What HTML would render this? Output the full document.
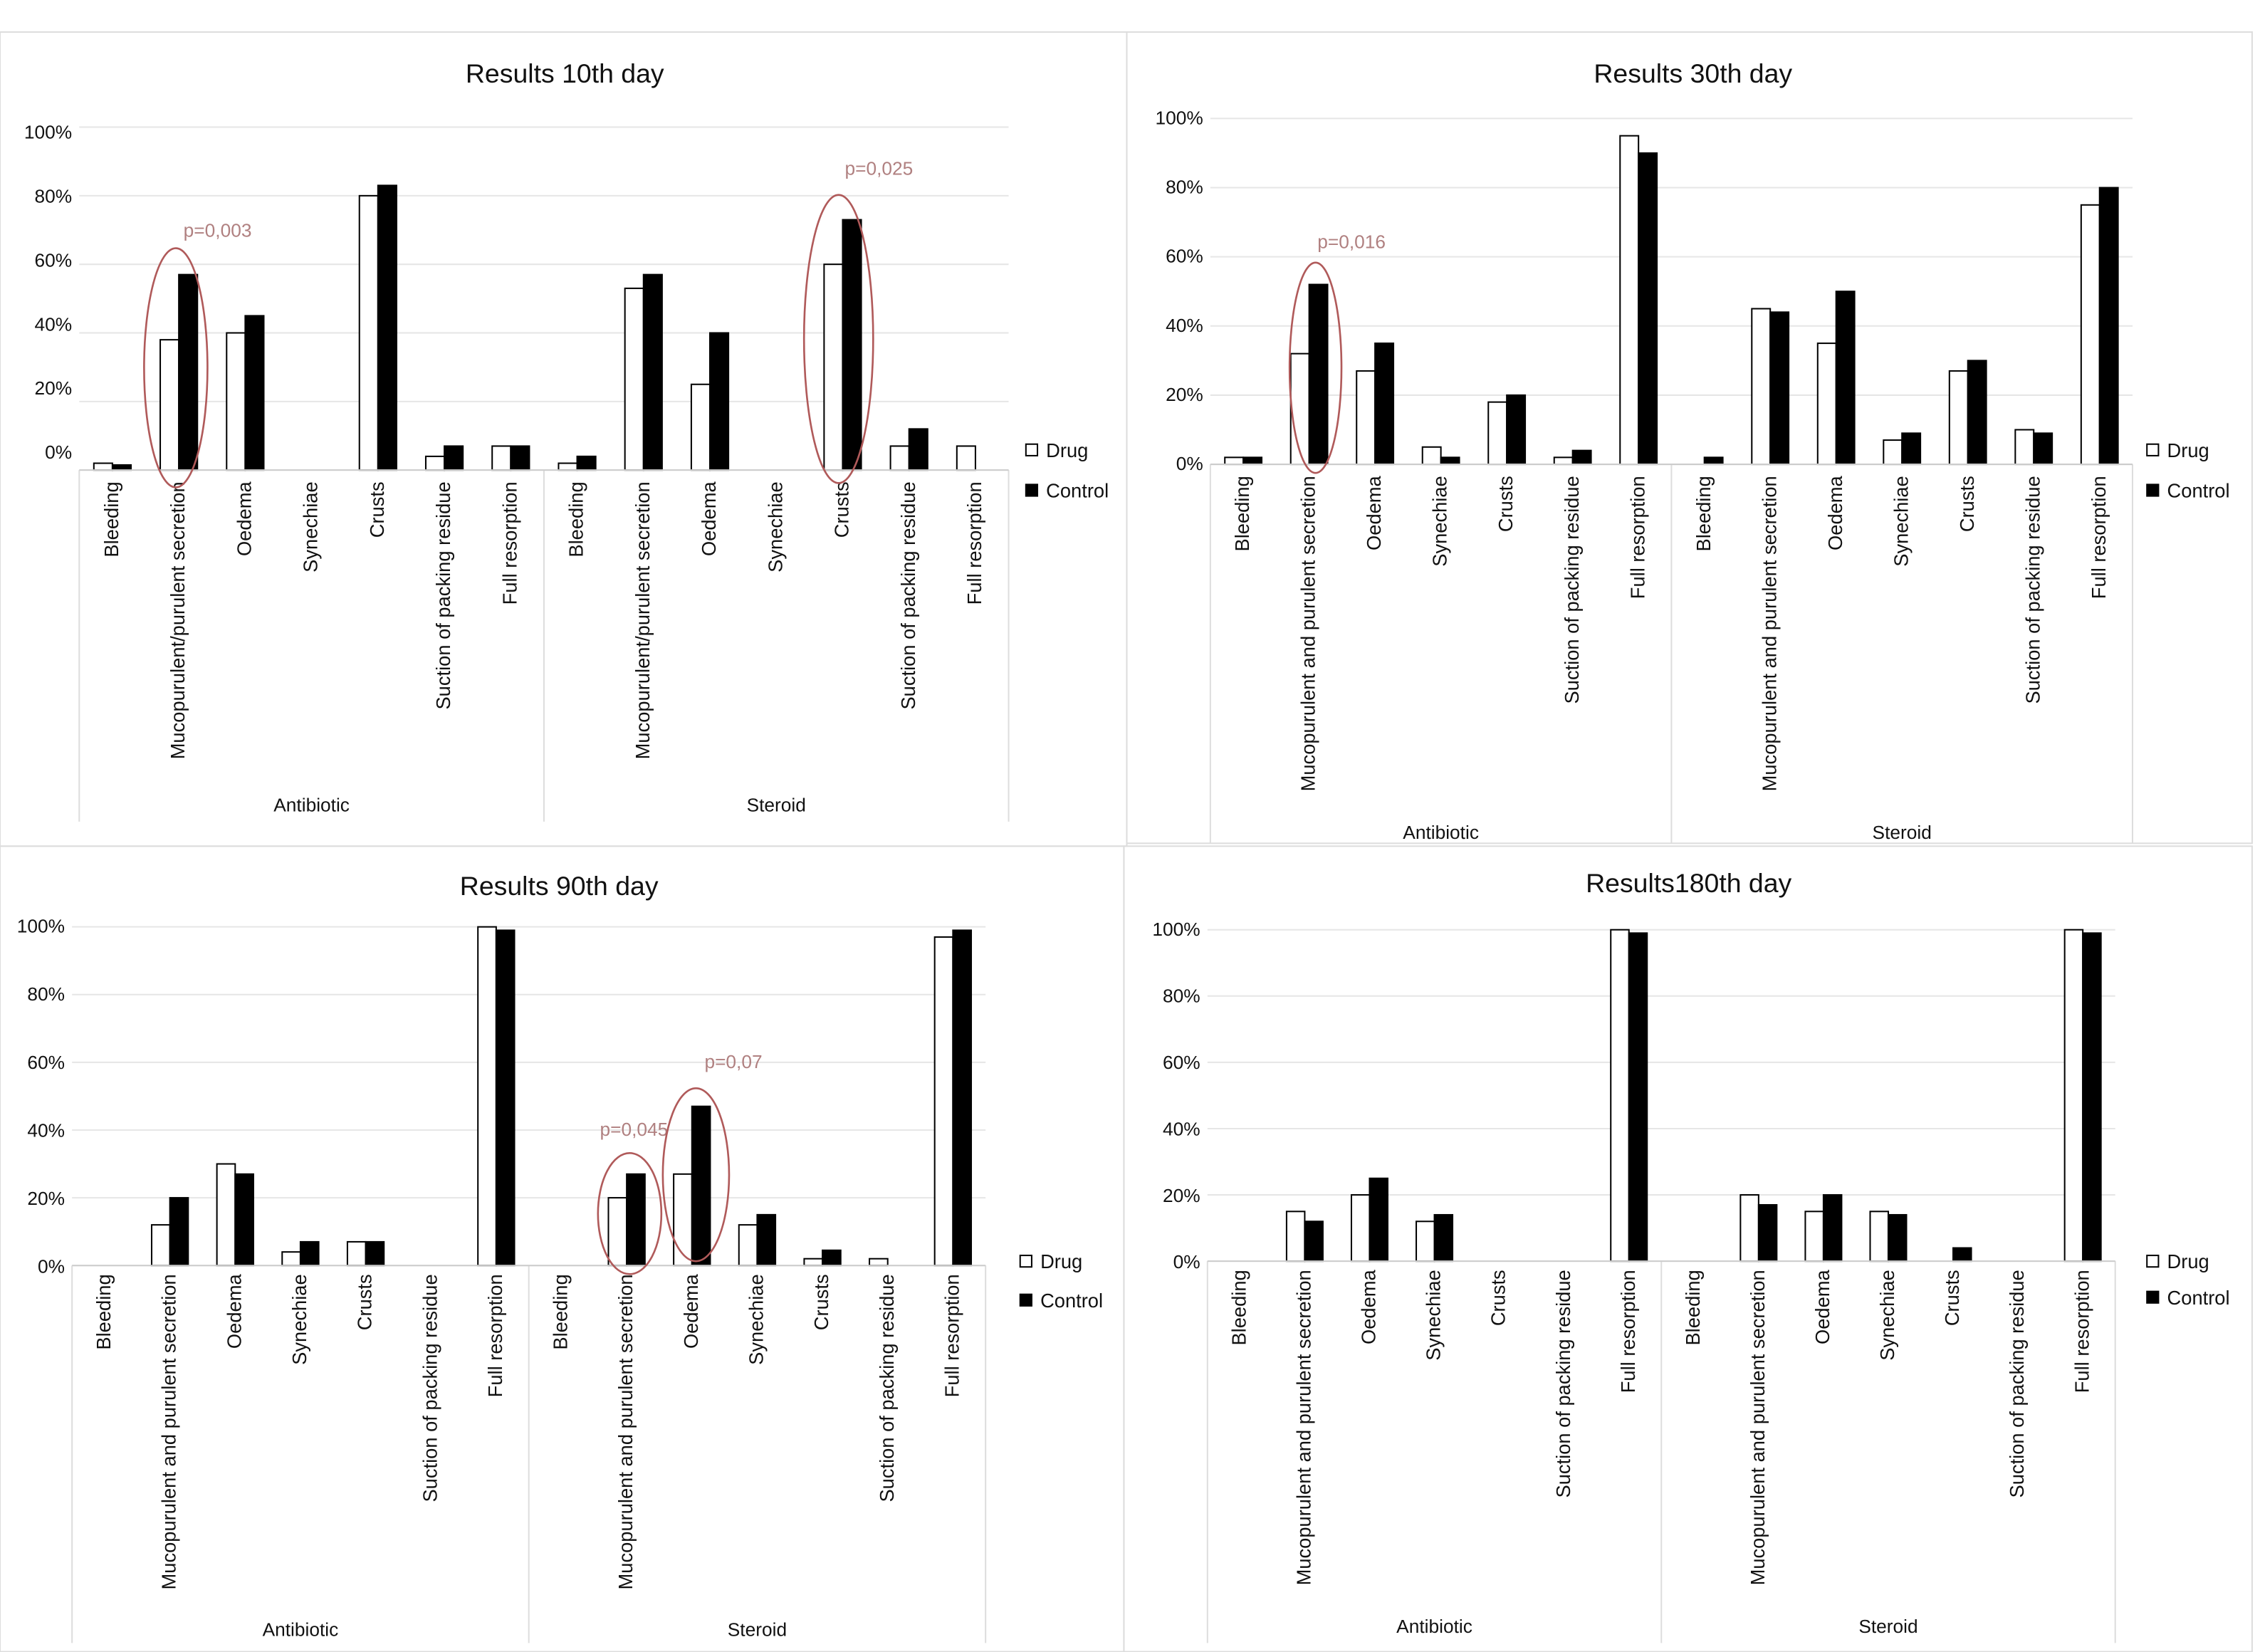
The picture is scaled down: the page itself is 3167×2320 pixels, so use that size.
<!DOCTYPE html>
<html><head><meta charset="utf-8"><style>
html,body{margin:0;padding:0;background:#fff}
svg{display:block}
text{font-family:"Liberation Sans",Arial,sans-serif;fill:#111}
</style></head><body>
<svg id="chart" width="3167" height="2320" viewBox="0 0 1565 1146" xmlns="http://www.w3.org/2000/svg"></svg>
<script>
const categories=["Bleeding","Mucopurulent/purulent secretion","Oedema","Synechiae","Crusts","Suction of packing residue","Full resorption"];
const categoriesAlt=["Bleeding","Mucopurulent and purulent secretion","Oedema","Synechiae","Crusts","Suction of packing residue","Full resorption"];
const groups=["Antibiotic","Steroid"];
const yTicks=[0,20,40,60,80,100];
const d10Drug=[2,38,40,0,80,4,7, 2,53,25,0,60,7,7];
const d10Ctrl=[1.5,57,45,0,83,7,7, 4,57,40,0,73,12,0];
const d30Drug=[2,32,27,5,18,2,95, 0,45,35,7,27,10,75];
const d30Ctrl=[2,52,35,2,20,4,90, 2,44,50,9,30,9,80];
const d90Drug=[0,12,30,4,7,0,100, 0,20,27,12,2,2,97];
const d90Ctrl=[0,20,27,7,7,0,99, 0,27,47,15,4.5,0,99];
const d180Drug=[0,15,20,12,0,0,100, 0,20,15,15,0,0,100];
const d180Ctrl=[0,12,25,14,0,0,99, 0,17,20,14,4,0,99];
const titles=["Results 10th day","Results 30th day","Results 90th day","Results180th day"];

const NS="http://www.w3.org/2000/svg";
const svg=document.getElementById('chart');
function el(t,a,p){const e=document.createElementNS(NS,t);for(const k in a)e.setAttribute(k,a[k]);(p||svg).appendChild(e);return e;}

const panels=[
 {box:[0,22,782,565],title:[392,50],top:88,base:326,lt:91,lb:313,x0:55,x1:700,labEnd:334,grpY:558,sepBot:570,legX:712,legY:[312,340],drug:d10Drug,ctrl:d10Ctrl,cats:categories,
  ell:[[122,255,22,83,"p=0,003",151,160],[582,235,24,100,"p=0,025",610,117]]},
 {box:[782,22,781,563],title:[1175,50],top:82,base:322,lt:81,lb:321,x0:840,x1:1480,labEnd:330,grpY:577,sepBot:585,legX:1490,legY:[312,340],drug:d30Drug,ctrl:d30Ctrl,cats:categoriesAlt,
  ell:[[913,255,18,73,"p=0,016",938,168]]},
 {box:[0,587,780,559],title:[388,614],top:643,base:878,lt:642,lb:878,x0:50,x1:684,labEnd:884,grpY:1130,sepBot:1140,legX:708,legY:[875,902],drug:d90Drug,ctrl:d90Ctrl,cats:categoriesAlt,
  ell:[[437,842,22,42,"p=0,045",440,784],[483,815,23,60,"p=0,07",509,737]]},
 {box:[780,587,783,559],title:[1172,612],top:645,base:875,lt:644,lb:875,x0:838,x1:1468,labEnd:881,grpY:1128,sepBot:1140,legX:1490,legY:[875,900],drug:d180Drug,ctrl:d180Ctrl,cats:categoriesAlt,ell:[]}
];

panels.forEach((p,pi)=>{
 const g=el('g',{});
 
 
 const b=el('rect',{x:p.box[0],y:p.box[1],width:p.box[2],height:p.box[3],fill:'none',stroke:'#ddd','stroke-width':1},g);
 
 const t=el('text',{x:p.title[0],y:p.title[1]+7,'text-anchor':'middle','font-size':18.5},g);t.textContent=titles[pi];
 
 const y=v=>p.base-(v/100)*(p.base-p.top);
 const ly=v=>p.lb-(v/100)*(p.lb-p.lt);
 const n=14, step=(p.x1-p.x0)/n;
 const xc=i=>p.x0+step*(i+0.5);
 yTicks.forEach(v=>{
  const ln=el('line',{x1:p.x0,x2:p.x1,y1:y(v),y2:y(v),stroke:'#e6e6e6','stroke-width':1},g);
  
  const tx=el('text',{x:p.x0-5,y:ly(v)+5,'text-anchor':'end','font-size':13},g);tx.textContent=v+'%';
  
 });
 [0,7,14].forEach(k=>{
  const sx=p.x0+step*k;
  const s=el('line',{x1:sx,x2:sx,y1:p.base,y2:p.sepBot,stroke:'#ddd','stroke-width':1},g);
  
 });
 groups.forEach((gn,gi)=>{
  const tx=el('text',{x:p.x0+step*(gi*7+3.5),y:p.grpY+5,'text-anchor':'middle','font-size':13},g);tx.textContent=gn;
  
 });
 const bw=step*0.28;
 for(let i=0;i<n;i++){
  const cx=xc(i);
  const r1=el('rect',{x:cx-bw,y:y(p.drug[i]),width:bw,height:p.base-y(p.drug[i]),fill:'#fff',stroke:'#000','stroke-width':1},g);
  
  const r2=el('rect',{x:cx,y:y(p.ctrl[i]),width:bw,height:p.base-y(p.ctrl[i]),fill:'#000',stroke:'#000','stroke-width':1},g);
  
  const lx=cx+4, lyy=p.labEnd;
  const tx=el('text',{x:lx,y:lyy,'text-anchor':'end','font-size':13.5,transform:`rotate(-90 ${lx} ${lyy})`},g);
  tx.textContent=p.cats[i%7];
  
 }
 const ln=el('line',{x1:p.x0,x2:p.x1,y1:p.base,y2:p.base,stroke:'#ccc'},g);
 
 p.ell.forEach(e=>{
  const o=el('ellipse',{cx:e[0],cy:e[1],rx:e[2],ry:e[3],fill:'none',stroke:'#b05a5a','stroke-width':1.3},g);
  
  const tx=el('text',{x:e[5],y:e[6]+4,'text-anchor':'middle','font-size':13,style:'fill:#b08080'},g);tx.textContent=e[4];
  
 });
 [["Drug",'#fff'],["Control",'#000']].forEach((L,li)=>{
  const yy=p.legY[li];
  const r=el('rect',{x:p.legX,y:yy-4,width:8,height:8,fill:L[1],stroke:'#000'},g);
  
  const tx=el('text',{x:p.legX+14,y:yy+5,'font-size':13.5},g);tx.textContent=L[0];
  
 });
});
</script>
</body></html>
